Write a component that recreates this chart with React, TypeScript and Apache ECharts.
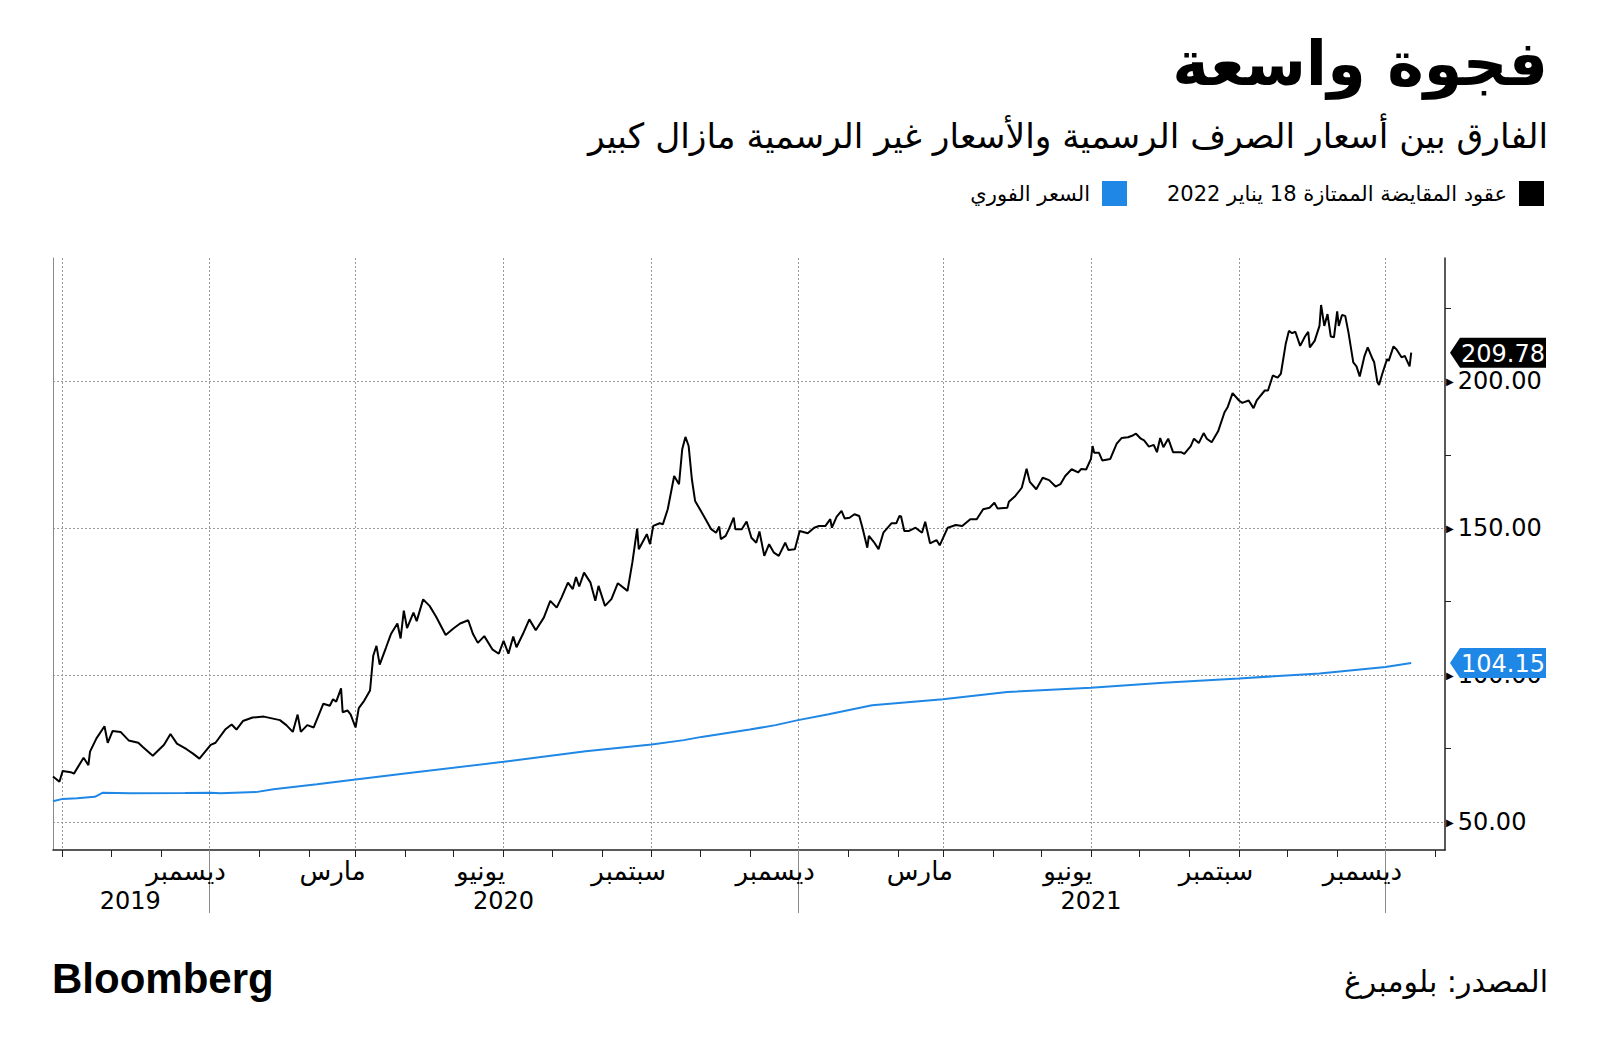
import React, { useEffect, useRef } from 'react';
import * as echarts from 'echarts';

// ---------- data ----------
const ndfName = 'عقود المقايضة الممتازة 18 يناير 2022';
const spotName = 'السعر الفوري';

const ndfDates = [
  '2019-08-26','2019-08-30','2019-09-01','2019-09-06','2019-09-08','2019-09-14','2019-09-17','2019-09-18','2019-09-22','2019-09-27',
  '2019-09-29','2019-10-02','2019-10-07','2019-10-12','2019-10-18','2019-10-21','2019-10-27','2019-11-03','2019-11-07','2019-11-11',
  '2019-11-17','2019-11-21','2019-11-25','2019-12-02','2019-12-05','2019-12-11','2019-12-15','2019-12-18','2019-12-22','2019-12-28',
  '2020-01-04','2020-01-14','2020-01-18','2020-01-22','2020-01-25','2020-01-27','2020-01-31','2020-02-04','2020-02-10','2020-02-14',
  '2020-02-16','2020-02-18','2020-02-21','2020-02-22','2020-02-25','2020-02-27','2020-03-01','2020-03-03','2020-03-06','2020-03-10',
  '2020-03-12','2020-03-14','2020-03-16','2020-03-20','2020-03-23','2020-03-27','2020-03-29','2020-03-31','2020-04-02','2020-04-06',
  '2020-04-08','2020-04-12','2020-04-16','2020-04-20','2020-04-26','2020-05-01','2020-05-05','2020-05-10','2020-05-13','2020-05-16',
  '2020-05-20','2020-05-25','2020-05-29','2020-06-01','2020-06-04','2020-06-07','2020-06-09','2020-06-13','2020-06-17','2020-06-21',
  '2020-06-26','2020-06-30','2020-07-04','2020-07-07','2020-07-11','2020-07-14','2020-07-16','2020-07-18','2020-07-21','2020-07-25',
  '2020-07-28','2020-07-30','2020-08-03','2020-08-07','2020-08-11','2020-08-17','2020-08-20','2020-08-23','2020-08-24','2020-08-29',
  '2020-08-31','2020-09-02','2020-09-06','2020-09-08','2020-09-11','2020-09-15','2020-09-18','2020-09-20','2020-09-22','2020-09-24',
  '2020-09-26','2020-09-28','2020-10-01','2020-10-04','2020-10-08','2020-10-11','2020-10-13','2020-10-14','2020-10-17','2020-10-19',
  '2020-10-22','2020-10-23','2020-10-27','2020-10-30','2020-11-02','2020-11-05','2020-11-07','2020-11-10','2020-11-13','2020-11-16',
  '2020-11-19','2020-11-23','2020-11-25','2020-11-29','2020-12-02','2020-12-07','2020-12-11','2020-12-14','2020-12-18','2020-12-21',
  '2020-12-22','2020-12-25','2020-12-28','2020-12-30','2021-01-02','2021-01-05','2021-01-08','2021-01-10','2021-01-13','2021-01-14',
  '2021-01-17','2021-01-20','2021-01-23','2021-01-28','2021-01-31','2021-02-02','2021-02-03','2021-02-05','2021-02-08','2021-02-12',
  '2021-02-16','2021-02-18','2021-02-21','2021-02-25','2021-02-27','2021-03-04','2021-03-09','2021-03-13','2021-03-18','2021-03-22',
  '2021-03-26','2021-03-30','2021-04-02','2021-04-04','2021-04-10','2021-04-11','2021-04-15','2021-04-19','2021-04-22','2021-04-24',
  '2021-04-28','2021-05-02','2021-05-06','2021-05-10','2021-05-13','2021-05-16','2021-05-20','2021-05-24','2021-05-26','2021-05-29',
  '2021-06-01','2021-06-02','2021-06-03','2021-06-06','2021-06-08','2021-06-13','2021-06-17','2021-06-20','2021-06-24','2021-06-27',
  '2021-06-29','2021-07-02','2021-07-04','2021-07-07','2021-07-10','2021-07-12','2021-07-14','2021-07-16','2021-07-19','2021-07-22',
  '2021-07-27','2021-07-29','2021-08-02','2021-08-04','2021-08-07','2021-08-10','2021-08-12','2021-08-15','2021-08-19','2021-08-23',
  '2021-08-25','2021-08-28','2021-09-01','2021-09-03','2021-09-07','2021-09-10','2021-09-12','2021-09-17','2021-09-19','2021-09-22',
  '2021-09-25','2021-09-27','2021-09-30','2021-10-02','2021-10-04','2021-10-06','2021-10-09','2021-10-12','2021-10-14','2021-10-15',
  '2021-10-18','2021-10-21','2021-10-22','2021-10-24','2021-10-26','2021-10-28','2021-10-30','2021-11-01','2021-11-02','2021-11-04',
  '2021-11-06','2021-11-08','2021-11-11','2021-11-13','2021-11-15','2021-11-18','2021-11-20','2021-11-23','2021-11-24','2021-11-26',
  '2021-11-27','2021-11-29','2021-12-02','2021-12-03','2021-12-06','2021-12-08','2021-12-11','2021-12-13','2021-12-16','2021-12-17',
];
const ndfValues = [
  65.5,63.7,67.4,67.0,66.5,71.9,69.4,74.0,78.5,82.6,
  77.0,81.0,80.7,77.8,77.0,75.5,72.6,76.3,80.0,76.7,
  74.8,73.3,71.6,76.3,77.0,81.5,83.2,81.5,84.4,85.6,
  85.9,84.7,83.0,80.7,86.6,80.7,83.0,82.2,90.3,89.6,
  91.8,91.0,95.5,87.4,88.0,86.6,82.2,88.8,91.0,94.8,
  106.6,110.0,103.6,109.5,114.0,117.6,112.5,122.0,116.0,121.3,
  118.4,125.8,123.6,120.0,113.7,116.0,117.6,118.7,114.0,111.0,
  113.3,108.8,107.3,111.7,107.3,113.2,109.5,114.0,119.0,115.3,
  119.6,125.3,123.0,126.4,131.5,129.3,133.4,130.2,134.9,131.5,
  125.3,130.4,123.6,125.9,131.3,128.7,138.3,149.9,142.9,148.0,
  144.6,150.8,151.7,151.4,156.5,167.8,165.0,176.9,181.1,178.0,
  166.7,159.3,156.5,153.6,149.7,148.5,150.6,146.3,147.4,149.7,
  153.6,149.7,149.7,152.3,146.8,145.1,148.9,140.6,144.6,141.7,
  140.6,145.1,142.6,142.9,149.1,148.3,150.2,150.8,150.8,153.1,
  150.2,154.0,155.9,153.3,153.6,154.8,154.2,150.2,143.4,147.4,
  145.4,142.9,148.5,151.7,151.7,154.2,154.0,149.1,149.1,150.2,
  148.5,152.2,144.9,146.0,144.2,150.2,151.1,150.8,153.1,153.1,
  156.5,157.0,158.7,156.7,157.0,159.0,161.0,163.8,170.3,165.8,
  163.3,167.2,166.4,164.2,165.0,167.8,170.1,169.0,170.2,170.0,
  173.6,178.0,175.7,175.7,173.1,173.6,178.8,180.7,181.0,181.6,
  182.2,180.5,179.9,177.8,178.4,175.9,180.7,177.6,180.5,175.9,
  175.9,175.3,178.0,180.5,179.0,182.4,180.5,179.3,183.0,189.5,
  191.3,196.0,193.5,192.7,193.5,190.9,193.5,196.9,196.9,202.0,
  201.3,202.6,212.7,217.2,216.4,216.9,212.1,215.3,216.9,211.6,
  213.8,218.9,226.0,218.9,222.9,215.3,215.0,223.8,218.9,222.6,
  222.3,216.7,206.5,205.1,201.7,208.7,211.6,207.6,206.5,199.7,
  198.8,202.5,207.6,207.0,211.9,210.8,208.2,208.7,205.1,209.78,
];

const spotDates = [
  '2019-08-26','2019-09-01','2019-09-10','2019-09-21','2019-09-26','2019-10-13','2019-11-16','2019-12-02','2019-12-08','2019-12-30',
  '2020-01-10','2020-02-06','2020-03-01','2020-04-02','2020-06-01','2020-07-22','2020-09-01','2020-09-21','2020-10-02','2020-11-01',
  '2020-11-17','2020-12-01','2020-12-20','2021-01-16','2021-03-01','2021-04-10','2021-06-01','2021-07-16','2021-09-01','2021-10-21',
  '2021-12-01','2021-12-17',
];
const spotValues = [
  57.1,57.9,58.1,58.6,60.0,59.8,59.9,60.0,59.8,60.2,
  61.2,62.9,64.5,66.6,70.5,74.1,76.4,77.9,79.0,81.5,
  83.0,84.7,86.7,89.8,91.8,94.3,95.7,97.4,98.9,100.6,
  102.8,104.15,
];

const monthNames = ['يناير','فبراير','مارس','أبريل','مايو','يونيو','يوليو','أغسطس','سبتمبر','أكتوبر','نوفمبر','ديسمبر'];
const quarterTicks = ['2019-09-01','2019-12-01','2020-03-01','2020-06-01','2020-09-01','2020-12-01','2021-03-01','2021-06-01','2021-09-01','2021-12-01'];
const quarterLabels = quarterTicks.slice(1);
const monthTicks = [
  '2019-09-01','2019-10-01','2019-11-01','2019-12-01','2020-01-01','2020-02-01','2020-03-01','2020-04-01','2020-05-01','2020-06-01',
  '2020-07-01','2020-08-01','2020-09-01','2020-10-01','2020-11-01','2020-12-01','2021-01-01','2021-02-01','2021-03-01','2021-04-01',
  '2021-05-01','2021-06-01','2021-07-01','2021-08-01','2021-09-01','2021-10-01','2021-11-01','2021-12-01','2022-01-01',
];
const yearSeparators = ['2019-12-01','2020-12-01','2021-12-01'];
const yearLabelDates = ['2019-10-13','2020-06-01','2021-06-01'];
const yMajor = [50, 100, 150, 200];
const yMinor = [75, 125, 175, 225];
const xMin = '2019-08-26';
const xMax = '2022-01-07';
const yMin = 40.5;
const yMax = 242;

const titleText = 'فجوة واسعة';
const subtitleText = 'الفارق بين أسعار الصرف الرسمية والأسعار غير الرسمية مازال كبير';
const sourceText = 'المصدر: بلومبرغ';

const ts = (s: string) => {
  const [y, m, d] = s.split('-').map(Number);
  return new Date(y, m - 1, d).getTime();
};

const AR = '"DejaVu Sans", sans-serif';
const BLUE = '#1f87e5';

export default function App() {
  const ref = useRef<HTMLDivElement>(null);
  useEffect(() => {
    const chart = echarts.init(ref.current!, null, { renderer: 'svg' });
    const gridBox: any = { left: 53, right: 155, top: 258, bottom: 208, containLabel: false, outerBoundsMode: 'none' };
    const lastNdf = ndfValues[ndfValues.length - 1];
    const lastSpot = spotValues[spotValues.length - 1];
    const tagPath = 'path://M0,15L10,0L96,0L96,30L10,30Z';
    const makeTag = (val: number, color: string) => ({
      symbol: tagPath,
      symbolSize: [96, 30],
      symbolKeepAspect: false,
      symbolOffset: [53, 0],
      itemStyle: { color },
      label: {
        show: true, position: 'inside', offset: [5, 1], color: '#fff', fontSize: 24, fontFamily: AR,
        formatter: () => val.toFixed(2),
      },
      data: [{ coord: [ts(xMax), val], value: val }],
      silent: true,
    });
    const xBase = { type: 'value', min: ts(xMin), max: ts(xMax), position: 'bottom' };
    const option: any = {
      animation: false,
      backgroundColor: '#ffffff',
      textStyle: { fontFamily: AR },
      grid: [gridBox, gridBox, gridBox],
      legend: {
        data: [spotName, ndfName],
        right: 51, top: 176, align: 'right', icon: 'rect',
        itemWidth: 25, itemHeight: 25, itemGap: 40, selectedMode: false,
        textStyle: { fontSize: 21, color: '#000', fontFamily: AR, padding: [0, 7, 0, 0] },
      },
      xAxis: [
        {
          ...xBase, gridIndex: 0,
          axisLine: { show: true, lineStyle: { color: '#222', width: 1.5 } },
          axisTick: { show: false, customValues: quarterTicks.map(ts) },
          splitLine: { show: true, lineStyle: { color: '#9a9a9a', width: 1, type: [2, 2] } },
          axisLabel: {
            show: true, customValues: quarterLabels.map(ts), color: '#000', fontSize: 26, fontFamily: AR,
            margin: 8, padding: [0, 46, 0, 0],
            formatter: (v: number) => monthNames[new Date(v).getMonth()],
          },
        },
        {
          ...xBase, gridIndex: 1,
          axisLine: { show: false },
          axisTick: { show: true, customValues: monthTicks.map(ts), length: 7, lineStyle: { color: '#222', width: 1 } },
          splitLine: { show: false },
          axisLabel: { show: false },
        },
        {
          ...xBase, gridIndex: 2,
          axisLine: { show: false },
          axisTick: { show: true, customValues: yearSeparators.map(ts), length: 63, lineStyle: { color: '#8a8a8a', width: 1 } },
          splitLine: { show: false },
          axisLabel: {
            show: true, customValues: yearLabelDates.map(ts), color: '#000', fontSize: 24, fontFamily: AR, margin: 39,
            formatter: (v: number) => String(new Date(v).getFullYear()),
          },
        },
      ],
      yAxis: [
        {
          type: 'value', gridIndex: 0, position: 'right', min: yMin, max: yMax,
          axisLine: { show: true, lineStyle: { color: '#222', width: 1.5 } },
          axisTick: { show: false, customValues: yMajor },
          splitLine: { show: true, lineStyle: { color: '#9a9a9a', width: 1, type: [2, 2] } },
          axisLabel: {
            show: true, customValues: yMajor, margin: 1,
            formatter: (v: number) => `{t|▶}{v|${v.toFixed(2)}}`,
            rich: {
              t: { fontSize: 10, color: '#000', padding: [0, 4, 0, 0], fontFamily: AR },
              v: { fontSize: 24, color: '#000', fontFamily: AR },
            },
          },
        },
        {
          type: 'value', gridIndex: 1, position: 'right', min: yMin, max: yMax,
          axisLine: { show: false },
          axisTick: { show: true, customValues: yMinor, length: 6, lineStyle: { color: '#222', width: 1 } },
          splitLine: { show: false },
          axisLabel: { show: false },
        },
        {
          type: 'value', gridIndex: 2, position: 'left', min: yMin, max: yMax,
          axisLine: { show: true, lineStyle: { color: '#8a8a8a', width: 1 } },
          axisTick: { show: false },
          splitLine: { show: false },
          axisLabel: { show: false },
        },
      ],
      series: [
        {
          name: spotName, type: 'line', xAxisIndex: 0, yAxisIndex: 0,
          data: spotDates.map((d, i) => [ts(d), spotValues[i]]),
          showSymbol: false, symbol: 'none',
          lineStyle: { color: BLUE, width: 2 }, itemStyle: { color: BLUE },
          z: 3,
          markPoint: makeTag(lastSpot, BLUE),
        },
        {
          name: ndfName, type: 'line', xAxisIndex: 0, yAxisIndex: 0,
          data: ndfDates.map((d, i) => [ts(d), ndfValues[i]]),
          showSymbol: false, symbol: 'none',
          lineStyle: { color: '#000', width: 2 }, itemStyle: { color: '#000' },
          z: 4,
          markPoint: makeTag(lastNdf, '#000'),
        },
      ],
      graphic: [
        {
          type: 'text', right: 52, top: 32,
          style: { text: titleText, fill: '#000', font: `bold 62px ${AR}` },
        },
        {
          type: 'text', right: 52, top: 118,
          style: { text: subtitleText, fill: '#000', font: `34.5px ${AR}` },
        },
        {
          type: 'text', left: 52, top: 957,
          style: { text: 'Bloomberg', fill: '#000', font: 'bold 42px "Liberation Sans", Arial, sans-serif' },
        },
        {
          type: 'text', right: 52, top: 966,
          style: { text: sourceText, fill: '#000', font: `30px ${AR}` },
        },
      ],
    };
    chart.setOption(option);
    return () => chart.dispose();
  }, []);
  return (
    <div
      ref={ref}
      style={{ position: 'absolute', left: 0, top: 0, width: 1600, height: 1058, background: '#fff' }}
    />
  );
}
